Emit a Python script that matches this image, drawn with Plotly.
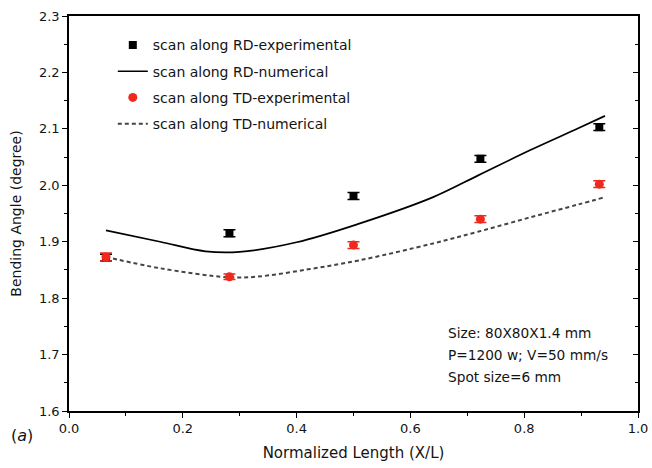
import plotly.graph_objects as go

# Experimental data (normalized length, bending angle, error)
x_exp = [0.065, 0.282, 0.500, 0.723, 0.932]
rd_exp = [1.872, 1.915, 1.981, 2.047, 2.103]
rd_err = [0.006, 0.006, 0.006, 0.006, 0.006]
td_exp = [1.873, 1.838, 1.894, 1.940, 2.002]
td_err = [0.007, 0.005, 0.006, 0.006, 0.006]

# Numerical curves
x_rd_num = [0.065, 0.16, 0.24, 0.30, 0.40, 0.51, 0.64, 0.72, 0.81, 0.895, 0.942]
rd_num = [1.920, 1.900, 1.883, 1.882, 1.899, 1.932, 1.979, 2.018, 2.062, 2.101, 2.123]
x_td_num = [0.065, 0.16, 0.28, 0.33, 0.42, 0.51, 0.64, 0.72, 0.81, 0.895, 0.942]
td_num = [1.873, 1.853, 1.837, 1.838, 1.851, 1.867, 1.897, 1.918, 1.943, 1.966, 1.979]

x_ticks = [0.0, 0.2, 0.4, 0.6, 0.8, 1.0]
y_ticks = [1.6, 1.7, 1.8, 1.9, 2.0, 2.1, 2.2, 2.3]

FONT = "DejaVu Sans"
TXT = "#141414"

fig = go.Figure()
fig.add_trace(go.Scatter(x=x_rd_num, y=rd_num, mode="lines", line=dict(color="black", width=1.7, shape="spline"),
                         name="scan along RD-numerical", legendgroup="b", legendrank=2))
fig.add_trace(go.Scatter(x=x_td_num, y=td_num, mode="lines", line=dict(color="#444444", width=2, dash="4px,3px", shape="spline"),
                         name="scan along TD-numerical", legendgroup="d", legendrank=4))
fig.add_trace(go.Scatter(x=x_exp, y=rd_exp, mode="markers", marker=dict(symbol="square", size=8, color="black"),
                         error_y=dict(type="data", array=rd_err, color="black", thickness=1.5, width=6),
                         name="scan along RD-experimental", legendgroup="a", legendrank=1))
fig.add_trace(go.Scatter(x=x_exp, y=td_exp, mode="markers", marker=dict(symbol="circle", size=9, color="#ee2a1f"),
                         error_y=dict(type="data", array=td_err, color="#ee2a1f", thickness=1.5, width=6),
                         name="scan along TD-experimental", legendgroup="c", legendrank=3))
# invisible trace for right axis
fig.add_trace(go.Scatter(x=[0.5], y=[1.9], yaxis="y2", mode="markers", marker=dict(opacity=0), showlegend=False, hoverinfo="skip"))

axis_common = dict(showgrid=False, zeroline=False, showline=True, linecolor="black", linewidth=1.5,
                   tickfont=dict(family=FONT, size=13, color=TXT), tickcolor="black", tickwidth=1.2,
                   automargin=False)

fig.update_layout(
    width=652, height=468,
    margin=dict(l=69, r=14, t=16, b=57),
    plot_bgcolor="white", paper_bgcolor="white",
    font=dict(family=FONT, size=13, color=TXT),
    xaxis=dict(range=[0, 1.0], tickvals=x_ticks, ticktext=[f"{v:.1f}" for v in x_ticks],
               ticks="outside", ticklen=5, mirror=True,
               minor=dict(dtick=0.1, ticks="outside", ticklen=3, tickcolor="black", tickwidth=1.2),
               title=dict(text="Normalized Length (X/L)", font=dict(family=FONT, size=15, color=TXT), standoff=12),
               **axis_common),
    yaxis=dict(range=[1.6, 2.3], tickvals=y_ticks, ticktext=[f"{v:.1f}" for v in y_ticks],
               ticks="outside", ticklen=5,
               minor=dict(dtick=0.05, ticks="outside", ticklen=3, tickcolor="black", tickwidth=1.2),
               title=dict(text="Bending Angle (degree)", font=dict(family=FONT, size=14, color=TXT), standoff=14),
               **axis_common),
    yaxis2=dict(range=[1.6, 2.3], overlaying="y", side="right", tickvals=y_ticks, showticklabels=False,
                ticks="inside", ticklen=5,
                minor=dict(dtick=0.05, ticks="inside", ticklen=3, tickcolor="black", tickwidth=1.2),
                **axis_common),
    showlegend=True,
    legend=dict(x=0.077, y=0.966, xanchor="left", yanchor="top", bgcolor="rgba(0,0,0,0)",
                font=dict(family=FONT, size=14, color=TXT), tracegroupgap=5, traceorder="grouped"),
)

fig.add_annotation(text="(<i>a</i>)", xref="paper", yref="paper", x=-0.105, y=-0.063, xanchor="left", yanchor="middle",
                   showarrow=False, font=dict(family=FONT, size=16, color=TXT))
for i, line in enumerate(["Size: 80X80X1.4 mm", "P=1200 w; V=50 mm/s", "Spot size=6 mm"]):
    fig.add_annotation(text=line, xref="paper", yref="paper", x=0.662, y=0.198 - i * 0.056, xanchor="left",
                       yanchor="middle", showarrow=False, font=dict(family=FONT, size=13.7, color=TXT))

fig.write_html("out.html", config={"displayModeBar": False},
               post_script="document.body.style.margin='0';document.body.style.overflow='hidden';")
